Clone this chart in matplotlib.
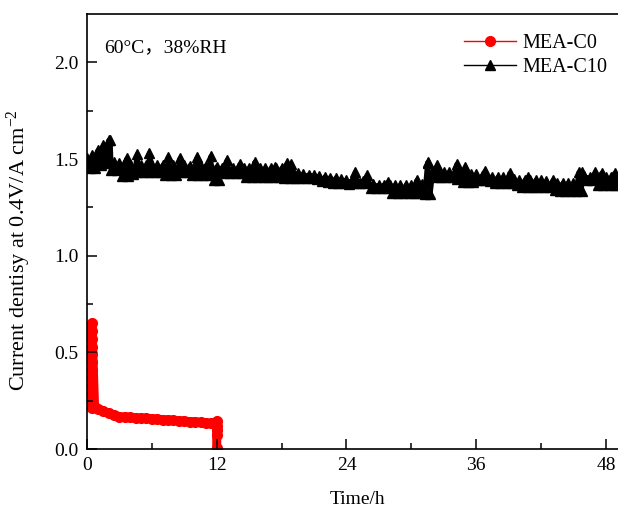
import matplotlib
matplotlib.use("Agg")
import matplotlib.pyplot as plt
from matplotlib.lines import Line2D

# ---------------- data ----------------
# MEA-C0 (red circles)
c0_time = [0.45]*12 + [0.7, 1.0, 1.5, 2.0, 2.5, 3.0, 3.5, 4.0, 4.5, 5.0, 5.5, 6.0, 6.5, 7.0,
                       7.5, 8.0, 8.5, 9.0, 9.5, 10.0, 10.5, 11.0, 11.5, 11.8,
                       12.0, 12.0, 12.0, 12.0, 12.0]
c0_value = [0.21, 0.25, 0.29, 0.33, 0.37, 0.41, 0.45, 0.49, 0.53, 0.57, 0.61, 0.65,
            0.215, 0.208, 0.197, 0.185, 0.175, 0.168, 0.165, 0.163, 0.161, 0.160, 0.158, 0.157,
            0.154, 0.152, 0.150, 0.148, 0.146, 0.144, 0.142, 0.140, 0.138, 0.135, 0.132, 0.130,
            0.145, 0.12, 0.10, 0.075, 0.005]

# MEA-C10 (black triangles): upper / lower edge of the dense band, plus spikes
c10_time = [0.0, 0.5, 1.0, 1.5, 2.0, 2.5, 3.0, 3.5, 4.0, 4.5, 5.0, 5.5, 6.0, 6.5, 7.0, 7.5,
            8.0, 8.5, 9.0, 9.5, 10.0, 10.5, 11.0, 11.5, 12.0, 12.5, 13.0, 13.5, 14.0, 14.5,
            15.0, 15.5, 16.0, 16.5, 17.0, 17.5, 18.0, 18.5, 19.0, 19.5, 20.0, 20.5, 21.0,
            21.5, 22.0, 22.5, 23.0, 23.5, 24.0, 24.5, 25.0, 25.5, 26.0, 26.5, 27.0, 27.5,
            28.0, 28.5, 29.0, 29.5, 30.0, 30.5, 31.0, 31.5, 32.0, 32.5, 33.0, 33.5, 34.0,
            34.5, 35.0, 35.5, 36.0, 36.5, 37.0, 37.5, 38.0, 38.5, 39.0, 39.5, 40.0, 40.5,
            41.0, 41.5, 42.0, 42.5, 43.0, 43.5, 44.0, 44.5, 45.0, 45.5, 46.0, 46.5, 47.0,
            47.5, 48.0, 48.5, 49.0, 49.5, 50.0]
c10_upper = [1.503, 1.519, 1.544, 1.570, 1.596, 1.482, 1.477, 1.477, 1.472, 1.467, 1.467,
             1.467, 1.467, 1.467, 1.467, 1.467, 1.467, 1.467, 1.467, 1.465, 1.465, 1.465,
             1.465, 1.462, 1.460, 1.455, 1.451, 1.451, 1.451, 1.451, 1.451, 1.451, 1.451,
             1.451, 1.451, 1.451, 1.451, 1.448, 1.445, 1.426, 1.422, 1.418, 1.415, 1.411,
             1.407, 1.404, 1.400, 1.395, 1.390, 1.389, 1.387, 1.385, 1.380, 1.370, 1.364,
             1.364, 1.364, 1.364, 1.364, 1.364, 1.364, 1.370, 1.372, 1.477, 1.440, 1.436,
             1.431, 1.431, 1.431, 1.431, 1.428, 1.425, 1.420, 1.410, 1.405, 1.405, 1.405,
             1.405, 1.400, 1.395, 1.389, 1.389, 1.389, 1.389, 1.389, 1.385, 1.374, 1.374,
             1.374, 1.374, 1.374, 1.431, 1.410, 1.405, 1.405, 1.405, 1.405, 1.405, 1.405,
             1.405, 1.405]
c10_lower = [1.451, 1.451, 1.467, 1.477, 1.441, 1.441, 1.410, 1.410, 1.425, 1.431, 1.431,
             1.431, 1.431, 1.431, 1.415, 1.415, 1.415, 1.431, 1.431, 1.415, 1.415, 1.415,
             1.415, 1.389, 1.389, 1.426, 1.426, 1.426, 1.426, 1.405, 1.405, 1.405, 1.405,
             1.405, 1.405, 1.405, 1.400, 1.400, 1.400, 1.400, 1.400, 1.400, 1.398, 1.385,
             1.380, 1.378, 1.376, 1.374, 1.372, 1.374, 1.374, 1.374, 1.348, 1.348, 1.348,
             1.348, 1.322, 1.322, 1.322, 1.322, 1.322, 1.322, 1.318, 1.318, 1.405, 1.405,
             1.405, 1.405, 1.395, 1.379, 1.379, 1.379, 1.389, 1.389, 1.385, 1.374, 1.374,
             1.374, 1.374, 1.365, 1.353, 1.353, 1.353, 1.353, 1.353, 1.353, 1.340, 1.333,
             1.333, 1.333, 1.333, 1.333, 1.389, 1.389, 1.364, 1.364, 1.364, 1.364, 1.364,
             1.364, 1.364]
c10_peak_time = [2.15, 3.7, 4.65, 5.75, 7.5, 8.6, 10.2, 11.45, 12.95, 14.15, 15.5, 17.4,
                 18.5, 18.9, 24.8, 25.9, 27.8, 30.5, 31.5, 32.4, 34.2, 35.0, 36.8, 39.1,
                 40.8, 43.1, 45.8, 47.0, 47.6, 48.8]
c10_peak_value = [1.600, 1.503, 1.524, 1.529, 1.508, 1.503, 1.508, 1.513, 1.493, 1.472,
                  1.482, 1.457, 1.477, 1.472, 1.431, 1.415, 1.379, 1.389, 1.482, 1.467,
                  1.472, 1.457, 1.436, 1.426, 1.405, 1.389, 1.431, 1.431, 1.426, 1.426]

x_ticks = [0, 12, 24, 36, 48]
y_ticks = [0.0, 0.5, 1.0, 1.5, 2.0]

# ---------------- style ----------------
plt.rcParams['font.family'] = ['Liberation Serif', 'Noto Sans CJK SC', 'DejaVu Serif']
plt.rcParams['mathtext.fontset'] = 'custom'
plt.rcParams['mathtext.rm'] = 'Liberation Serif'
plt.rcParams['mathtext.it'] = 'Liberation Serif:italic'

fig = plt.figure(figsize=(6.18, 5.14), dpi=100)
W, H = 618, 514
ax = fig.add_axes([87 / W, 65 / H, 540.5 / W, 435 / H])

# build MEA-C10 sequence (zig-zag between band edges plus spikes)
pts = []
for t, u, l in zip(c10_time, c10_upper, c10_lower):
    pts.append((t, u))
    pts.append((t + 0.25, l))
for t, v in zip(c10_peak_time, c10_peak_value):
    pts.append((t, v))
pts.sort(key=lambda p: p[0])
bx = [p[0] for p in pts]
by = [p[1] for p in pts]

ax.plot(c0_time, c0_value, color='#ff0000', lw=6.5, marker='o', ms=7,
        mec='#ff0000', mfc='#ff0000', solid_joinstyle='round',
        solid_capstyle='round', zorder=2)
ax.plot(bx, by, color='black', lw=3.5, marker='^', ms=7.5,
        mec='black', mfc='black', zorder=2)

ax.set_xlim(0, 50)
ax.set_ylim(0, 2.25)
ax.set_xticks(x_ticks)
ax.set_yticks(y_ticks)
ax.set_xticks([6, 18, 30, 42], minor=True)
ax.set_yticks([0.25, 0.75, 1.25, 1.75], minor=True)
ax.set_xticklabels([str(v) for v in x_ticks])
ax.set_yticklabels([f"{v:.1f}" for v in y_ticks])
ax.tick_params(which='major', direction='in', length=7, width=1.1, labelsize=14,
               pad=6, top=False, right=False)
ax.tick_params(which='minor', direction='in', length=4, width=1.1, top=False, right=False)
ax.set_axisbelow(False)
for s in ax.spines.values():
    s.set_linewidth(1.2)
ax.spines['right'].set_visible(False)

ax.set_xlabel('Time/h', fontsize=14, labelpad=12)
ax.set_ylabel('Current dentisy at 0.4V/A cm$^{-2}$', fontsize=16)
ax.yaxis.set_label_coords(-0.1, 0.457)

ax.text(0.031, 0.922, '60°C，38%RH', transform=ax.transAxes, fontsize=14,
        va='center', ha='left')

handles = [
    Line2D([], [], color='#ff0000', lw=1.0, marker='o', ms=7, mec='#ff0000', mfc='#ff0000'),
    Line2D([], [], color='black', lw=1.0, marker='^', ms=7, mec='black', mfc='black'),
]
leg = ax.legend(handles, ['MEA-C0', 'MEA-C10'], loc='upper left',
                bbox_to_anchor=(464 / W, 1 - 34 / H),
                bbox_transform=fig.transFigure, frameon=False, fontsize=14.5,
                handlelength=2.6, handletextpad=0.3, labelspacing=0.25,
                borderpad=0, borderaxespad=0)

fig.savefig('out.png', dpi=100)
